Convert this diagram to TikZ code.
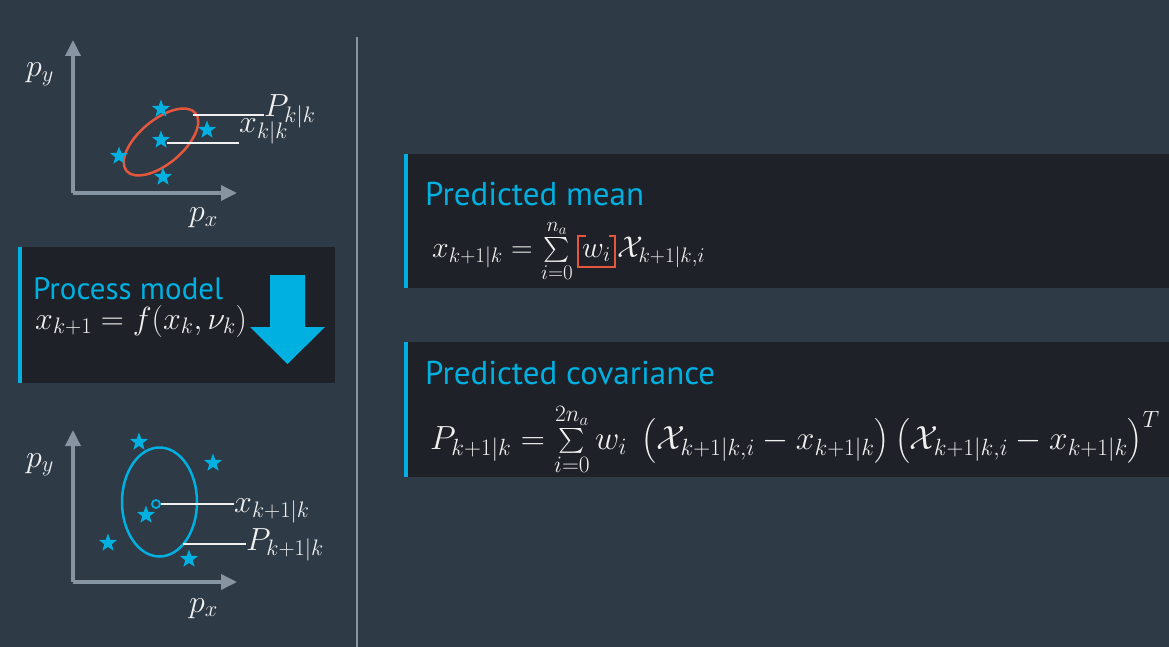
\RequirePackage{fix-cm}
\documentclass[tikz,border=0pt]{standalone}
\usepackage{amsmath}
\usepackage{fontspec}
\newfontfamily\titlefont{PT Sans}
\usetikzlibrary{shapes.geometric,arrows.meta}
\definecolor{bg}{HTML}{2E3A46}
\definecolor{boxc}{HTML}{1E2228}
\definecolor{cy}{HTML}{00B0E0}
\definecolor{rd}{HTML}{E4573D}
\definecolor{ax}{HTML}{8795A3}
\definecolor{wt}{HTML}{F0F0F0}
\definecolor{sepc}{HTML}{8A949E}
\tikzset{
  lbl/.style={text=wt, font=\fontsize{32}{38}\selectfont, inner sep=0pt, anchor=base west},
  eq/.style={text=wt, font=\fontsize{30}{36}\selectfont, inner sep=0pt, anchor=base west},
  ttl/.style={text=cy, font=\titlefont\fontsize{33}{40}\selectfont, inner sep=0pt, anchor=base west},
  mystar/.style={star, star points=5, star point ratio=2.4, minimum size=19pt, fill=cy, inner sep=0pt, draw=none},
  axisline/.style={draw=ax, line width=3.5pt, -{Triangle[length=16pt,width=15pt]}},
  leader/.style={draw=wt, line width=2pt},
  panel/.style={fill=boxc, draw=none},
  bar/.style={fill=cy, draw=none},
}
\begin{document}
\begin{tikzpicture}[x=1pt,y=-1pt]
\useasboundingbox (0,0) rectangle (1169,647);
\fill[bg] (0,0) rectangle (1169,647);
% separator
\coordinate (s1) at (357,37); \coordinate (s2) at (357,647);
\draw[sepc, line width=1.5pt] (s1) -- (s2);

% ---------- top plot ----------
\coordinate (o1) at (73,193); \coordinate (yt1) at (73,40); \coordinate (xt1) at (237,193);
\draw[axisline] (o1) -- (yt1);
\draw[axisline] (o1) -- (xt1);
\node[lbl] (py1) at (26,77) {$p_y$};
\node[lbl] (px1) at (189,222) {$p_x$};
\draw[rd, line width=2.5pt] (161,142) ellipse [x radius=45pt, y radius=22pt, rotate=40];
\node[mystar] (a1) at (161,109) {};
\node[mystar] (a2) at (207,130) {};
\node[mystar] (a3) at (119,156) {};
\node[mystar] (a4) at (161,140) {};
\node[mystar] (a5) at (163,177) {};
\node[lbl] (Pkk) at (264,117) {$P_{k|k}$};
\node[lbl] (xkk) at (239,133) {$x_{k|k}$};
\coordinate (pe1) at (193,115);
\coordinate (xe1) at (167,143);
\draw[leader] (pe1) -- (pe1 -| Pkk.west);
\draw[leader] (xe1) -- (xe1 -| xkk.west);

% ---------- process model box ----------
\fill[panel] (18,247) rectangle (335,383);
\fill[bar] (18,247) rectangle (21.5,383);
\node[ttl, font=\titlefont\fontsize{31}{36}\selectfont] (pmt) at (33,299) {Process model};
\node[eq, font=\fontsize{32}{38}\selectfont] (pmf) at (35,329) {$x_{k+1} = f(x_k,\nu_k)$};
\fill[cy] (270,275) -- (305,275) -- (305,327) -- (325,327) -- (287.5,364) -- (250,327) -- (270,327) -- cycle;

% ---------- bottom plot ----------
\coordinate (o2) at (73,582); \coordinate (yt2) at (73,430); \coordinate (xt2) at (237,582);
\draw[axisline] (o2) -- (yt2);
\draw[axisline] (o2) -- (xt2);
\node[lbl] (py2) at (26,467) {$p_y$};
\node[lbl] (px2) at (189,612) {$p_x$};
\draw[cy, line width=2.5pt] (159.5,502) ellipse [x radius=37.5pt, y radius=54.5pt];
\node[mystar] (b1) at (139,442) {};
\node[mystar] (b2) at (213,463) {};
\node[mystar] (b3) at (146,515) {};
\node[mystar] (b4) at (108,543) {};
\node[mystar] (b5) at (189,559) {};
\node[circle, draw=cy, line width=1.8pt, minimum size=8pt, inner sep=0pt] (mc) at (156,504) {};
\node[lbl] (xk1) at (234,512) {$x_{k+1|k}$};
\node[lbl] (Pk1) at (246,550) {$P_{k+1|k}$};
\coordinate (pe2) at (183,544);
\draw[leader] (mc.east) -- (mc.east -| xk1.west);
\draw[leader] (pe2) -- (pe2 -| Pk1.west);

% ---------- predicted mean ----------
\fill[panel] (404,154) rectangle (1169,288);
\fill[bar] (404,154) rectangle (407.5,288);
\node[ttl] (pmn) at (425,205) {Predicted mean};
\node[eq] (mf1) at (432,257) {$x_{k+1|k} = \sum\limits_{i=0}^{n_a}$};
\node[eq, anchor=base west, xshift=9pt] (wi) at (mf1.base east) {$w_i$};
\node[eq, anchor=base west, xshift=6pt] (mf3) at (wi.base east) {$\mathcal{X}_{k+1|k,i}$};
\draw[rd, line width=2.5pt]
  ([xshift=4pt,yshift=21pt]wi.base west) -- ([xshift=-4pt,yshift=21pt]wi.base west)
  -- ([xshift=-4pt,yshift=-10pt]wi.base west) -- ([xshift=4pt,yshift=-10pt]wi.base east)
  -- ([xshift=4pt,yshift=21pt]wi.base east) -- ([xshift=-2pt,yshift=21pt]wi.base east);

% ---------- predicted covariance ----------
\fill[panel] (404,342) rectangle (1169,477);
\fill[bar] (404,342) rectangle (407.5,477);
\node[ttl] (pcv) at (425,384) {Predicted covariance};
\node[eq, font=\fontsize{33.5}{40}\selectfont] (cf) at (430,449) {$P_{k+1|k} = \sum\limits_{i=0}^{2n_a} w_i \;\left(\mathcal{X}_{k+1|k,i} - x_{k+1|k}\right) \left(\mathcal{X}_{k+1|k,i} - x_{k+1|k}\right)^T$};
\end{tikzpicture}
\end{document}
